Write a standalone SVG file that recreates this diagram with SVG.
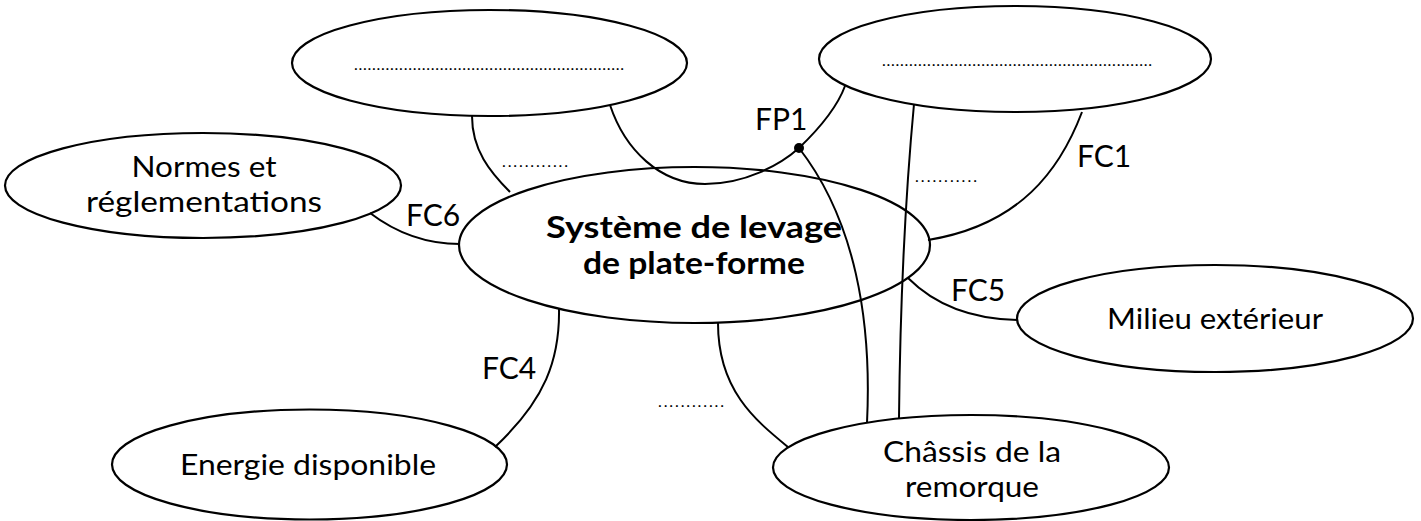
<svg xmlns="http://www.w3.org/2000/svg" width="1421" height="521" viewBox="0 0 1421 521">
<style>
.n{fill:#fff;stroke:#000;stroke-width:2.2}
.c{fill:none;stroke:#000;stroke-width:2}
text{font-family:Lato,"Open Sans","Liberation Sans",sans-serif;fill:#000}
.t{font-size:29px;text-anchor:middle}
.b{font-size:30px;font-weight:bold;text-anchor:middle}
.l{font-size:30px}
.d{font-size:16px}
</style>
<rect width="1421" height="521" fill="#fff"/>
<g id="n-top-left">
<ellipse class="n" cx="489.5" cy="63" rx="197.5" ry="53"/>
<text class="d" x="354" y="70" textLength="270" lengthAdjust="spacing">............................................................</text>
</g>
<g id="n-top-right">
<ellipse class="n" cx="1015" cy="59" rx="196" ry="53"/>
<text class="d" x="882" y="66" textLength="270" lengthAdjust="spacing">............................................................</text>
</g>
<g id="n-normes">
<ellipse class="n" cx="203" cy="185.5" rx="198" ry="52.5"/>
<text class="t" x="204" y="177" textLength="145" lengthAdjust="spacingAndGlyphs">Normes et</text>
<text class="t" x="204" y="212" textLength="236" lengthAdjust="spacingAndGlyphs">réglementations</text>
</g>
<g id="n-systeme">
<ellipse class="n" cx="694.5" cy="245" rx="235.5" ry="78"/>
<text class="b" x="694" y="238" textLength="296" lengthAdjust="spacingAndGlyphs">Système de levage</text>
<text class="b" x="694" y="274" textLength="222" lengthAdjust="spacingAndGlyphs">de plate-forme</text>
</g>
<g id="n-milieu">
<ellipse class="n" cx="1215" cy="318.5" rx="198" ry="53.5"/>
<text class="t" x="1215" y="329" textLength="216" lengthAdjust="spacingAndGlyphs">Milieu extérieur</text>
</g>
<g id="n-energie">
<ellipse class="n" cx="309.5" cy="464.5" rx="197.5" ry="55"/>
<text class="t" x="308" y="475" textLength="256" lengthAdjust="spacingAndGlyphs">Energie disponible</text>
</g>
<g id="n-chassis">
<ellipse class="n" cx="971" cy="467.5" rx="198" ry="52.5"/>
<text class="t" x="972" y="462" textLength="178" lengthAdjust="spacingAndGlyphs">Châssis de la</text>
<text class="t" x="972" y="497" textLength="134" lengthAdjust="spacingAndGlyphs">remorque</text>
</g>
<g id="connectors">
<path class="c" d="M472,116 C472,150 490,172 510,192"/>
<path class="c" d="M610,105 C625,150 660,184 705,184 C745,184 780,165 799,148 C822,126 838,105 845,86"/>
<path class="c" d="M799,148 C855,220 872,320 867,423"/>
<path class="c" d="M914,104 C905,200 900,320 899,418"/>
<path class="c" d="M1082,112 C1060,170 1020,225 928,240"/>
<path class="c" d="M908,278 C935,305 970,319 1017,320"/>
<path class="c" d="M370,213 C395,232 425,244 460,244"/>
<path class="c" d="M559,308 C560,360 545,400 495,447"/>
<path class="c" d="M718,323 C718,390 755,420 788,447"/>
<circle cx="799" cy="148" r="5" fill="#000"/>
<text class="l" x="755" y="130">FP1</text>
<text class="l" x="1077" y="167">FC1</text>
<text class="l" x="406" y="226">FC6</text>
<text class="l" x="951" y="301">FC5</text>
<text class="l" x="482" y="379">FC4</text>
<text class="d" x="502" y="167" textLength="66" lengthAdjust="spacing">............</text>
<text class="d" x="915" y="182" textLength="62" lengthAdjust="spacing">...........</text>
<text class="d" x="658" y="407" textLength="66" lengthAdjust="spacing">............</text>
</g>
</svg>
